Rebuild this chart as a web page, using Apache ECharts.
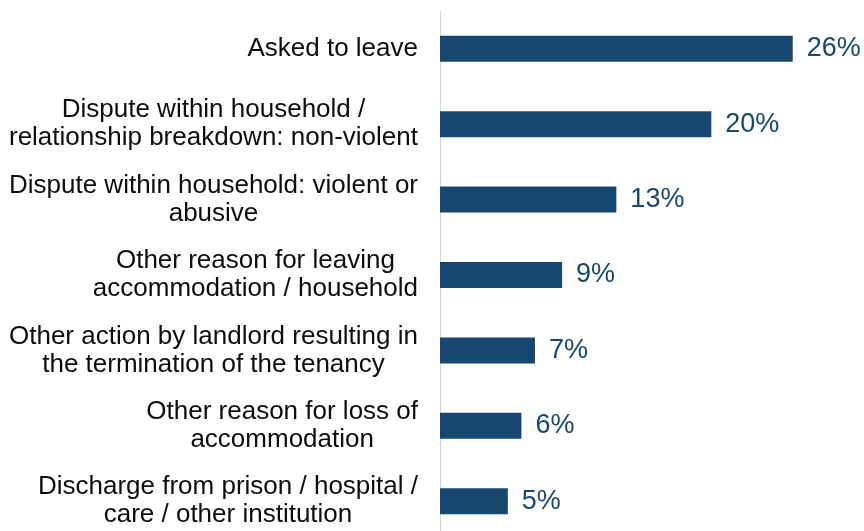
<!DOCTYPE html>
<html>
<head>
<meta charset="utf-8">
<script src="https://cdn.jsdelivr.net/npm/echarts@6/dist/echarts.min.js"></script>
<style>
  html, body { margin: 0; padding: 0; background: #ffffff; overflow: hidden; }
  /* the drawing surface runs a little past the bottom of the window */
  #chart { width: 864px; height: 542px; }
</style>
</head>
<body>
<div id="chart"></div>
<script>
// Reasons for loss of last settled home (share of households, %)
const categories = [
  'Asked to leave',
  'Dispute within household /\nrelationship breakdown: non-violent',
  'Dispute within household: violent or\nabusive',
  'Other reason for leaving\naccommodation / household',
  'Other action by landlord resulting in\nthe termination of the tenancy',
  'Other reason for loss of\naccommodation',
  'Discharge from prison / hospital /\ncare / other institution'
];
const shares = [26, 20, 13, 9, 7, 6, 5];

const FONT = "'Liberation Sans', Arial, sans-serif";
const BAR_COLOR = '#17476f';

const chart = echarts.init(document.getElementById('chart'), null, { renderer: 'canvas' });

chart.setOption({
  animation: false,
  backgroundColor: '#ffffff',
  grid: { left: 440, top: 11, height: 528, width: 407 },
  xAxis: {
    type: 'value',
    min: 0,
    max: 30,
    show: false
  },
  yAxis: {
    type: 'category',
    inverse: true,
    data: categories,
    axisTick: { show: false },
    axisLine: { show: true, lineStyle: { color: '#d4d4d4', width: 1 } },
    splitLine: { show: false },
    axisLabel: {
      interval: 0,
      margin: 22,
      align: 'right',
      verticalAlign: 'middle',
      fontFamily: FONT,
      fontSize: 26,
      lineHeight: 28,
      color: '#0d0d0d',
      // each line is centred within the label block
      formatter: function (value) {
        return value.split('\n').map(function (line) { return '{c|' + line + '}'; }).join('\n');
      },
      rich: {
        c: { align: 'center', fontFamily: FONT, fontSize: 26, lineHeight: 28, color: '#0d0d0d' }
      }
    }
  },
  series: [{
    type: 'bar',
    data: shares,
    barWidth: 26,
    itemStyle: { color: BAR_COLOR },
    label: {
      show: true,
      position: 'right',
      distance: 14,
      fontFamily: FONT,
      fontSize: 27,
      color: BAR_COLOR,
      formatter: function (p) { return p.value + '%'; }
    }
  }]
});
</script>
</body>
</html>
